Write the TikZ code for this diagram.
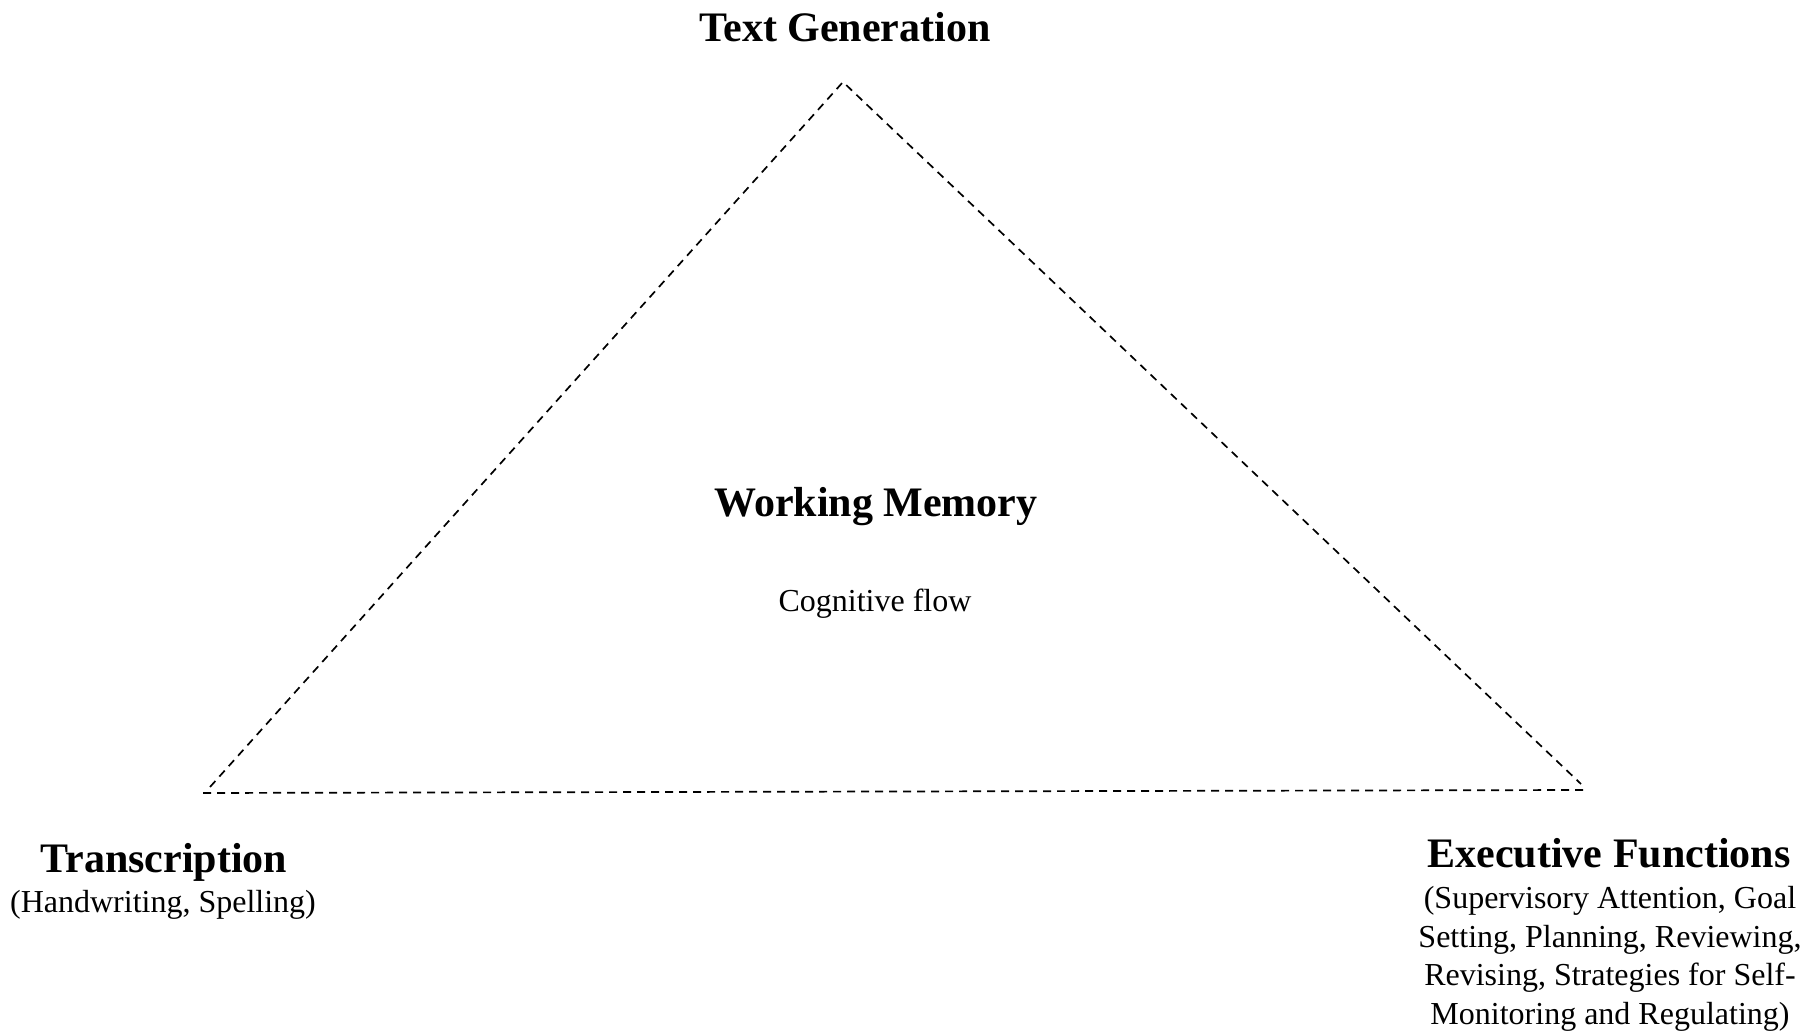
\documentclass[tikz,border=0pt]{standalone}
\usepackage{fontspec}
\setmainfont{Liberation Serif}
\begin{document}
\begin{tikzpicture}[x=0.5pt,y=-0.5pt,
  head/.style={font=\fontsize{21}{25}\selectfont\bfseries, inner sep=0pt, anchor=base},
  body/.style={font=\fontsize{16}{19.2}\selectfont, inner sep=0pt, anchor=base},
  edge/.style={draw=black, line width=0.85pt, dash pattern=on 4pt off 3pt}]
  % canvas
  \useasboundingbox (0,0) rectangle (1815,1036);
  % triangle corners
  \coordinate (top) at (843,82);
  \coordinate (lft) at (210,787);
  \coordinate (rgt) at (1581,784);
  \coordinate (bl) at (203,793);
  \coordinate (br) at (1584,790);
  \draw[edge] (lft) -- (top) -- (rgt);
  \draw[edge] (bl) -- (br);
  % labels
  \node[head] (tg) at (845,42) {Text Generation};
  \node[head] (wm) at (876,517) {Working Memory};
  \node[body] (cf) at (875,612) {Cognitive flow};
  \node[head] (tr) at (164,872) {Transcription};
  \node[body] (trs) at (163,912) {(Handwriting, Spelling)};
  \node[head] (ef) at (1609,867) {Executive Functions};
  % multi-line text: base anchor sits on the last line
  \node[body, align=center] (efs) at (1610,1024) {(Supervisory Attention, Goal\\Setting, Planning, Reviewing,\\Revising, Strategies for Self-\\Monitoring and Regulating)};
\end{tikzpicture}
\end{document}
